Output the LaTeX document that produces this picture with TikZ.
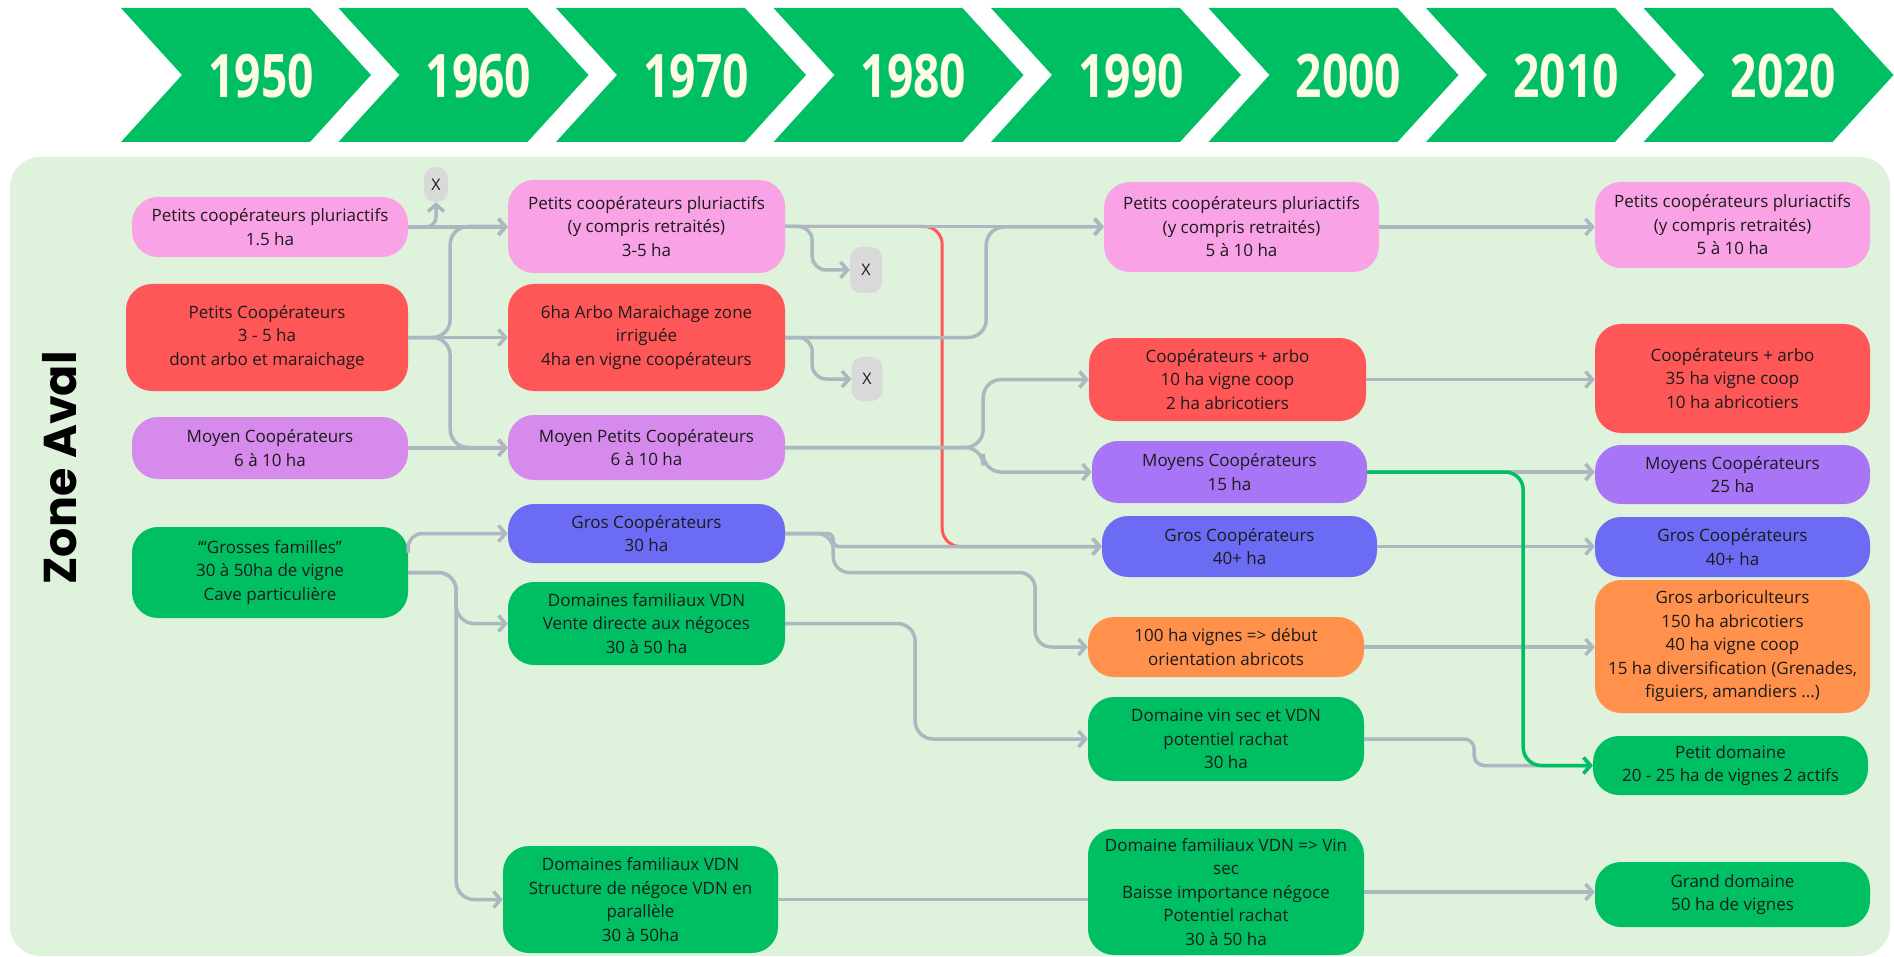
\documentclass[tikz,border=0pt]{standalone}
\usepackage{fontspec}
\setmainfont{Open Sans}
\newfontfamily\zonefont{Poppins}
\usetikzlibrary{arrows.meta}

\definecolor{chev}{HTML}{00BF63}
\definecolor{panel}{HTML}{DFF2DC}
\definecolor{pinkc}{HTML}{F9A2E6}
\definecolor{redc}{HTML}{FF5757}
\definecolor{orchid}{HTML}{D58AEC}
\definecolor{lilac}{HTML}{A875F6}
\definecolor{bluec}{HTML}{6B6BF3}
\definecolor{greenc}{HTML}{00BF63}
\definecolor{orangec}{HTML}{FF914D}
\definecolor{greyc}{HTML}{D9D9D9}
\definecolor{linkc}{HTML}{ADB7C0}
\definecolor{yeartext}{HTML}{FFFBE6}
\definecolor{ink}{HTML}{1B1B1B}

\begin{document}
\begin{tikzpicture}[x=1pt, y=-1pt,
  box/.style={rounded corners=26pt, align=center, inner sep=0pt, text=ink, font=\fontsize{17}{23.5}\selectfont},
  xbox/.style={fill=greyc, rounded corners=11pt, inner sep=0pt, text=ink, font=\fontsize{16}{16}\selectfont},
  link/.style={draw=linkc, line width=3.5pt, rounded corners=18pt, -{Straight Barb[length=7pt,width=16pt]}},
  year/.style={text=yeartext, font=\bfseries\fontsize{60}{60}\selectfont}]
\useasboundingbox (0,0) rectangle (1894,957);
\fill[panel, rounded corners=30pt] (10,157) rectangle (1890,956);

% frise des annees
\foreach \yr [count=\i from 0] in {1950,1960,1970,1980,1990,2000,2010,2020}{
  \fill[chev] ({121+217.5*\i},8) -- ++(189,0) -- ++(61,67) -- ++(-61,67) -- ++(-189,0) -- ++(61,-67) -- cycle;
  \node[year] (yr\i) at ({261+217.5*\i},76) {\scalebox{0.77}[1]{\yr}};
}

\node[rotate=90, text=black, font=\zonefont\bfseries\fontsize{46}{46}\selectfont] (zone) at (60,468) {Zone Aval};

% 1950
\node[box, fill=pinkc, minimum width=276pt, minimum height=60pt] (pp1) at (270,227) {Petits coopérateurs pluriactifs\\1.5 ha};
\node[box, fill=redc, minimum width=282pt, minimum height=107pt] (pc1) at (267,337.5) {Petits Coopérateurs\\3 - 5 ha\\dont arbo et maraichage};
\node[box, fill=orchid, minimum width=276pt, minimum height=62pt] (mc1) at (270,448) {Moyen Coopérateurs\\6 à 10 ha};
\node[box, fill=greenc, minimum width=276pt, minimum height=91pt] (gf1) at (270,572.5) {‘“Grosses familles”\\30 à 50ha de vigne\\Cave particulière};

% 1960
\node[box, fill=pinkc, minimum width=277pt, minimum height=93pt] (pp2) at (646.5,226.5) {Petits coopérateurs pluriactifs\\(y compris retraités)\\3-5 ha};
\node[box, fill=redc, minimum width=277pt, minimum height=107pt] (ar2) at (646.5,337.5) {6ha Arbo Maraichage zone\\irriguée\\4ha en vigne coopérateurs};
\node[box, fill=orchid, minimum width=277pt, minimum height=65pt] (mp2) at (646.5,447.5) {Moyen Petits Coopérateurs\\6 à 10 ha};
\node[box, fill=bluec, minimum width=277pt, minimum height=59pt] (gc2) at (646.5,533.5) {Gros Coopérateurs\\30 ha};
\node[box, fill=greenc, minimum width=277pt, minimum height=83pt] (dv2) at (646.5,623.5) {Domaines familiaux VDN\\Vente directe aux négoces\\30 à 50 ha};
\node[box, fill=greenc, minimum width=275pt, minimum height=107pt] (dn2) at (640.5,899.5) {Domaines familiaux VDN\\Structure de négoce VDN en\\parallèle\\30 à 50ha};

\node[xbox, minimum width=24pt, minimum height=35pt] (x1) at (436,184.5) {X};
\node[xbox, minimum width=32pt, minimum height=46pt] (x2) at (866,270) {X};
\node[xbox, minimum width=31pt, minimum height=44pt] (x3) at (867,379) {X};

% 1990
\node[box, fill=pinkc, minimum width=275pt, minimum height=90pt] (pp3) at (1241.5,227) {Petits coopérateurs pluriactifs\\(y compris retraités)\\5 à 10 ha};
\node[box, fill=redc, minimum width=277pt, minimum height=83pt] (ca3) at (1227.5,379.5) {Coopérateurs + arbo\\10 ha vigne coop\\2 ha abricotiers};
\node[box, fill=lilac, minimum width=275pt, minimum height=62pt] (mc3) at (1229.5,472) {Moyens Coopérateurs\\15 ha};
\node[box, fill=bluec, minimum width=275pt, minimum height=61pt] (gc3) at (1239.5,546.5) {Gros Coopérateurs\\40+ ha};
\node[box, fill=orangec, minimum width=276pt, minimum height=60pt] (ab3) at (1226,647) {100 ha vignes => début\\orientation abricots};
\node[box, fill=greenc, minimum width=276pt, minimum height=84pt] (vs3) at (1226,739) {Domaine vin sec et VDN\\potentiel rachat\\30 ha};
\node[box, fill=greenc, minimum width=276pt, minimum height=126pt] (vd3) at (1226,892) {Domaine familiaux VDN => Vin\\sec\\Baisse importance négoce\\Potentiel rachat\\30 à 50 ha};

% 2020
\node[box, fill=pinkc, minimum width=275pt, minimum height=86pt] (pp4) at (1732.5,225) {Petits coopérateurs pluriactifs\\(y compris retraités)\\5 à 10 ha};
\node[box, fill=redc, minimum width=275pt, minimum height=109pt] (ca4) at (1732.5,378.5) {Coopérateurs + arbo\\35 ha vigne coop\\10 ha abricotiers};
\node[box, fill=lilac, minimum width=275pt, minimum height=59pt] (mc4) at (1732.5,474.5) {Moyens Coopérateurs\\25 ha};
\node[box, fill=bluec, minimum width=275pt, minimum height=60pt] (gc4) at (1732.5,547) {Gros Coopérateurs\\40+ ha};
\node[box, fill=orangec, minimum width=275pt, minimum height=133pt] (ga4) at (1732.5,646.5) {Gros arboriculteurs\\150 ha abricotiers\\40 ha vigne coop\\15 ha diversification (Grenades,\\figuiers, amandiers ...)};
\node[box, fill=greenc, minimum width=275pt, minimum height=59pt] (pd4) at (1730.5,765.5) {Petit domaine\\20 - 25 ha de vignes 2 actifs};
\node[box, fill=greenc, minimum width=275pt, minimum height=65pt] (gd4) at (1732.5,894.5) {Grand domaine\\50 ha de vignes};

% liens
\draw[link, draw=redc, line width=3pt] (pp2.east) -- ++(157,0) |- (gc3.west);

\draw[link] (pp1.east) -- (pp2.west |- pp1.east);
\draw[link, rounded corners=10pt] (pp1.east) -| (x1.south);
\draw[link] (pc1.east) -- ++(42,0) |- (pp2.west);
\draw[link] (pc1.east) -- (ar2.west);
\draw[link] (pc1.east) -- ++(42,0) |- (mp2.west);
\draw[link] (mc1.east) -- (mc1.east -| mp2.west);
\draw[link, rounded corners=14pt] ([yshift=20pt]gf1.east) |- (gc2.west);
\draw[link] (gf1.east) -- ++(48,0) |- (dv2.west);
\draw[link] (gf1.east) -- ++(48,0) |- (dn2.west);

\draw[link] (pp2.east) -- (pp2.east -| pp3.west);
\draw[link, rounded corners=14pt] (pp2.east) -- ++(27,0) |- (x2.west);
\draw[link] (ar2.east) -- ++(201,0) |- (pp3.west);
\draw[link, rounded corners=14pt] (ar2.east) -- ++(27,0) |- (x3.west);
\draw[link] (mp2.east) -- ++(198,0) |- (ca3.west);
\draw[link] (mp2.east) -- ++(198,0) |- (mc3.west);
\draw[link, rounded corners=6pt] (gc2.east) -- ++(48,0) |- (gc3.west);
\draw[link, rounded corners=16pt] (gc2.east) -- ++(48,0) |- ++(202,39) |- (ab3.west);
\draw[link] (dv2.east) -- ++(130,0) |- (vs3.west);
\draw[link, -] (dn2.east) -- (dn2.east -| vd3.west);

\draw[link] (pp3.east) -- (pp3.east -| pp4.west);
\draw[link] (ca3.east) -- (ca3.east -| ca4.west);
\draw[link] (mc3.east) -- (mc3.east -| mc4.west);
\draw[link] (gc3.east) -- (gc3.east -| gc4.west);
\draw[link] (ab3.east) -- (ab3.east -| ga4.west);
\draw[link, rounded corners=10pt] (vs3.east) -- ++(110,0) |- (pd4.west);
\draw[link] (vd3.east) -- (vd3.east -| gd4.west);

\draw[link, draw=greenc] (mc3.east) -- ++(156,0) |- (pd4.west);
\end{tikzpicture}
\end{document}
